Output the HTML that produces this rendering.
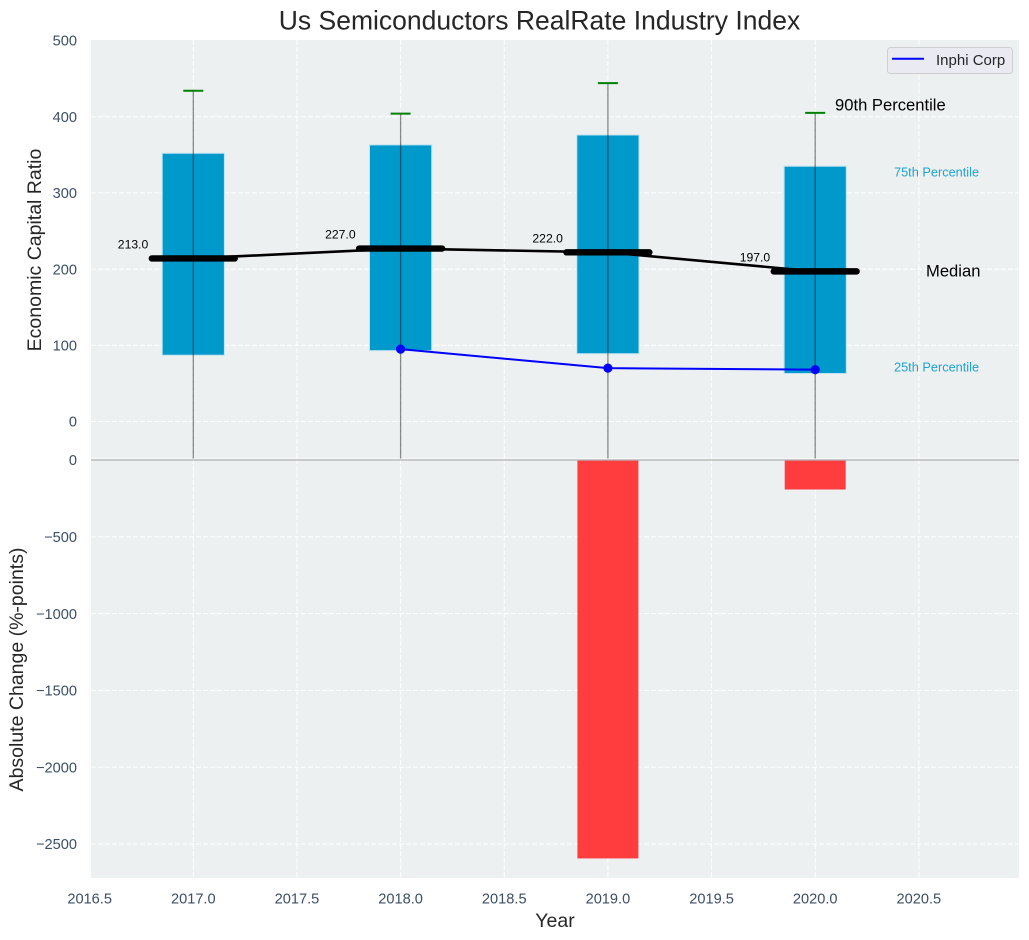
<!DOCTYPE html>
<html>
<head>
<meta charset="utf-8">
<title>Us Semiconductors RealRate Industry Index</title>
<style>
html,body{margin:0;padding:0;background:#fff;}
svg{display:block;font-family:"Liberation Sans",Arial,sans-serif;}
</style>
</head>
<body>
<svg id="chart" width="1029" height="940" viewBox="0 0 1029 940" xmlns="http://www.w3.org/2000/svg">
  <defs>
    <clipPath id="upper-clip"><rect x="91" y="40" width="928" height="418.5"></rect></clipPath>
    <clipPath id="lower-clip"><rect x="91" y="459" width="928" height="419"></rect></clipPath>
  </defs>
</svg>
<script>
const years = [2017, 2018, 2019, 2020];
const p25Values = [87, 93, 89, 63];
const p75Values = [352, 363, 376, 335];
const p90Values = [434, 404, 444, 405];
const p10Values = [-60, -60, -60, -60];
const medianValues = [214, 227, 222, 197];
const medianLabels = ['213.0', '227.0', '222.0', '197.0'];
const companyYears = [2018, 2019, 2020];
const companyValues = [95, 70, 68];
const changeYears = [2019, 2020];
const changeValues = [-2594, -192];
const xTicks = [2016.5, 2017, 2017.5, 2018, 2018.5, 2019, 2019.5, 2020, 2020.5];
const upperTicks = [0, 100, 200, 300, 400, 500];
const lowerTicks = [0, -500, -1000, -1500, -2000, -2500];

const svg = document.getElementById('chart');
const NS = 'http://www.w3.org/2000/svg';
const plotLeft = 91, plotRight = 1019;
const upperTop = 40, upperBottom = 458.5, lowerTop = 459, lowerBottom = 878;
const BLUE = '#0099CC', TICK = '#3d4f66', DARK = '#262626';

function x(v) { return 193.3 + (v - 2017) * 207.3; }
function yUp(v) { return 421.5 - v * 0.762; }
function yLow(v) { return 460 + v * -0.1536; }

function make(tag, attrs, parent, text) {
  const el = document.createElementNS(NS, tag);
  for (const k in attrs) el.setAttribute(k, attrs[k]);
  if (text !== undefined) el.textContent = text;
  (parent || svg).appendChild(el);
  return el;
}
function group(clip) {
  const g = make('g', clip ? { 'clip-path': 'url(#' + clip + ')' } : {});
  return g;
}

/* backgrounds */
const upperBg = make('rect', { x: plotLeft, y: upperTop, width: plotRight - plotLeft, height: upperBottom - upperTop, fill: '#ECF0F1' });


const lowerBg = make('rect', { x: plotLeft, y: lowerTop, width: plotRight - plotLeft, height: lowerBottom - lowerTop, fill: '#ECF0F1' });



/* grid */
const gridAttrs = { stroke: '#ffffff', 'stroke-width': 1, 'stroke-dasharray': '5 2', fill: 'none' };
const gridGroup = group();


xTicks.forEach(function (t) {
  if (t === 2016.5) return;
  const a = make('line', Object.assign({ x1: x(t), x2: x(t), y1: upperTop, y2: upperBottom }, gridAttrs), gridGroup);
  
  
  const b = make('line', Object.assign({ x1: x(t), x2: x(t), y1: lowerTop, y2: lowerBottom }, gridAttrs), gridGroup);
  
  
});
upperTicks.forEach(function (t) {
  if (t === 500) return;
  const a = make('line', Object.assign({ x1: plotLeft, x2: plotRight, y1: yUp(t), y2: yUp(t) }, gridAttrs), gridGroup);
  
  
});
lowerTicks.forEach(function (t) {
  if (t === 0) return;
  const a = make('line', Object.assign({ x1: plotLeft, x2: plotRight, y1: yLow(t), y2: yLow(t) }, gridAttrs), gridGroup);
  
  
});

/* percentile bars */
const upperMarks = group('upper-clip');


years.forEach(function (yr, i) {
  const bar = make('rect', {
    x: x(yr - 0.15), width: x(yr + 0.15) - x(yr - 0.15),
    y: yUp(p75Values[i]), height: yUp(p25Values[i]) - yUp(p75Values[i]),
    fill: BLUE, stroke: '#bfe3f0', 'stroke-width': 1
  }, upperMarks);
  
  
});

/* median connector */
const medianLine = make('polyline', {
  points: years.map(function (yr, i) { return x(yr) + ',' + yUp(medianValues[i]); }).join(' '),
  fill: 'none', stroke: '#000', 'stroke-width': 2.6
}, upperMarks);



/* whiskers, caps, medians */
years.forEach(function (yr, i) {
  const w = make('line', {
    x1: x(yr), x2: x(yr), y1: yUp(p10Values[i]), y2: yUp(p90Values[i]),
    stroke: '#000', 'stroke-opacity': 0.45, 'stroke-width': 1.3
  }, upperMarks);
  
  
  const c = make('line', {
    x1: x(yr) - 10, x2: x(yr) + 10, y1: yUp(p90Values[i]), y2: yUp(p90Values[i]),
    stroke: '#008000', 'stroke-width': 2
  }, upperMarks);
  
  
  const m = make('line', {
    x1: x(yr - 0.2), x2: x(yr + 0.2), y1: yUp(medianValues[i]), y2: yUp(medianValues[i]),
    stroke: '#000', 'stroke-width': 6.4, 'stroke-linecap': 'round'
  }, upperMarks);
  
  
  const t = make('text', {
    x: x(yr) - 45, y: yUp(medianValues[i]) - 10, 'text-anchor': 'end',
    'font-size': 12.2, fill: '#000'
  }, svg, medianLabels[i]);
  
  
});

/* company series */
const companyLine = make('polyline', {
  points: companyYears.map(function (yr, i) { return x(yr) + ',' + yUp(companyValues[i]); }).join(' '),
  fill: 'none', stroke: '#0000FF', 'stroke-width': 2
}, upperMarks);


companyYears.forEach(function (yr, i) {
  const p = make('circle', { cx: x(yr), cy: yUp(companyValues[i]), r: 4.6, fill: '#0000FF' }, upperMarks);
  
  
});

/* change bars */
const lowerMarks = group('lower-clip');


changeYears.forEach(function (yr, i) {
  const h = yLow(changeValues[i]) - yLow(0);
  const bar = make('rect', {
    x: x(yr) - 30.5, width: 61, y: yLow(0), height: h, fill: '#FF3D3F'
  }, lowerMarks);
  
  
});
const zeroLine = make('line', { x1: plotLeft, x2: plotRight, y1: 460, y2: 460, stroke: '#b3b3b3', 'stroke-width': 1.2 });



/* tick labels */
xTicks.forEach(function (t) {
  const l = make('text', { x: x(t), y: 903.3, 'text-anchor': 'middle', 'font-size': 14.6, fill: TICK }, svg, t.toFixed(1));
  
  
});
upperTicks.forEach(function (t) {
  const l = make('text', { x: 77, y: yUp(t) + 5.2, 'text-anchor': 'end', 'font-size': 14.6, fill: TICK }, svg, String(t));
  
  
});
lowerTicks.forEach(function (t) {
  const l = make('text', { x: 77, y: yLow(t) + 5.2, 'text-anchor': 'end', 'font-size': 14.6, fill: TICK }, svg, String(t).replace('-', '\u2212'));
  
  
});

/* titles */
const title = make('text', { x: 539.5, y: 29.5, 'text-anchor': 'middle', 'font-size': 26.5, fill: DARK }, svg, 'Us Semiconductors RealRate Industry Index');


const yTitleUp = make('text', { transform: 'translate(41,250) rotate(-90)', 'text-anchor': 'middle', 'font-size': 19.5, fill: DARK }, svg, 'Economic Capital Ratio');


const yTitleLow = make('text', { transform: 'translate(23,669.5) rotate(-90)', 'text-anchor': 'middle', 'font-size': 19.5, fill: DARK }, svg, 'Absolute Change (%-points)');


const xTitle = make('text', { x: 555, y: 927, 'text-anchor': 'middle', 'font-size': 19.5, fill: DARK }, svg, 'Year');



/* percentile annotations */
const a90 = make('text', { x: 835, y: 110.5, 'font-size': 16.6, fill: '#000' }, svg, '90th Percentile');


const a75 = make('text', { x: 894, y: 176.3, 'font-size': 12.75, fill: '#1fa3d1' }, svg, '75th Percentile');


const aMed = make('text', { x: 926, y: 276.5, 'font-size': 16.6, fill: '#000' }, svg, 'Median');


const a25 = make('text', { x: 894, y: 371.3, 'font-size': 12.75, fill: '#1fa3d1' }, svg, '25th Percentile');



/* legend */
const legend = make('g', {});


const legendBox = make('rect', { x: 887.5, y: 47.5, width: 125, height: 26, rx: 3, fill: '#EAEAF2', stroke: '#cfcfcf', 'stroke-width': 1 }, legend);


const legendLine = make('line', { x1: 892, x2: 924, y1: 58.8, y2: 58.8, stroke: '#0000FF', 'stroke-width': 2 }, legend);


const legendText = make('text', { x: 936, y: 65, 'font-size': 15, fill: DARK }, legend, 'Inphi Corp');


</script>
</body>
</html>
